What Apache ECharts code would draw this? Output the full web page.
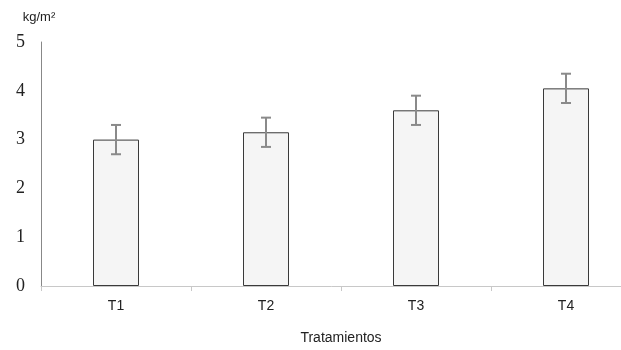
<!DOCTYPE html>
<html>
<head>
<meta charset="utf-8">
<script src="https://cdn.jsdelivr.net/npm/echarts@6/dist/echarts.min.js"></script>
<style>
  html, body { margin: 0; padding: 0; background: #fff; }
  #chart { width: 621px; height: 350px; }
</style>
</head>
<body>
<div id="chart"></div>
<script>
const categories = ["T1", "T2", "T3", "T4"];
const values = [3.0, 3.15, 3.6, 4.05];
const errors = [0.3, 0.3, 0.3, 0.3];

const myChart = echarts.init(document.getElementById("chart"));

// barras de error: [indice, valor, error]
const errorData = values.map((v, i) => [i, v, errors[i]]);

const options = {
  animation: false,
  // el eje x continúa más allá del borde derecho, como en el original
  grid: { left: 41, width: 600, top: 42, bottom: 64, outerBoundsMode: "none", containLabel: false },
  xAxis: {
    type: "category",
    data: categories,
    name: "Tratamientos",
    nameLocation: "middle",
    nameGap: 45,
    nameTextStyle: { color: "#222", fontSize: 14, fontFamily: "Liberation Sans" },
    axisLine: { lineStyle: { color: "#c8c8c8", width: 1 } },
    axisTick: { show: true, length: 5, lineStyle: { color: "#c8c8c8" } },
    axisLabel: { color: "#222", fontSize: 14, fontFamily: "Liberation Sans", margin: 13 },
  },
  yAxis: {
    type: "value",
    min: 0,
    max: 5,
    interval: 1,
    name: "kg/m²",
    nameLocation: "end",
    nameGap: 18,
    nameTextStyle: { color: "#222", fontSize: 13, fontFamily: "Liberation Sans", align: "center", padding: [0, 0, 0, -4] },
    axisLine: { show: true, lineStyle: { color: "#888", width: 1 } },
    axisTick: { show: false },
    splitLine: { show: false },
    axisLabel: { color: "#222", fontSize: 18, fontFamily: "Liberation Serif", margin: 16 },
  },
  series: [
    {
      type: "bar",
      data: values,
      barWidth: 46,
      itemStyle: { color: "#f5f5f5", borderColor: "#3a3a3a", borderWidth: 1 },
    },
    {
      type: "custom",
      data: errorData,
      z: 10,
      renderItem: (params, api) => {
        const i = api.value(0);
        const v = api.value(1);
        const e = api.value(2);
        const hi = api.coord([i, v + e]);
        const lo = api.coord([i, v - e]);
        const cap = 5;
        const style = { stroke: "#8a8a8a", lineWidth: 2 };
        return {
          type: "group",
          children: [
            { type: "line", shape: { x1: hi[0], y1: hi[1], x2: lo[0], y2: lo[1] }, style },
            { type: "line", shape: { x1: hi[0] - cap, y1: hi[1], x2: hi[0] + cap, y2: hi[1] }, style },
            { type: "line", shape: { x1: lo[0] - cap, y1: lo[1], x2: lo[0] + cap, y2: lo[1] }, style },
          ],
        };
      },
    },
  ],
};

myChart.setOption(options);
</script>
</body>
</html>
